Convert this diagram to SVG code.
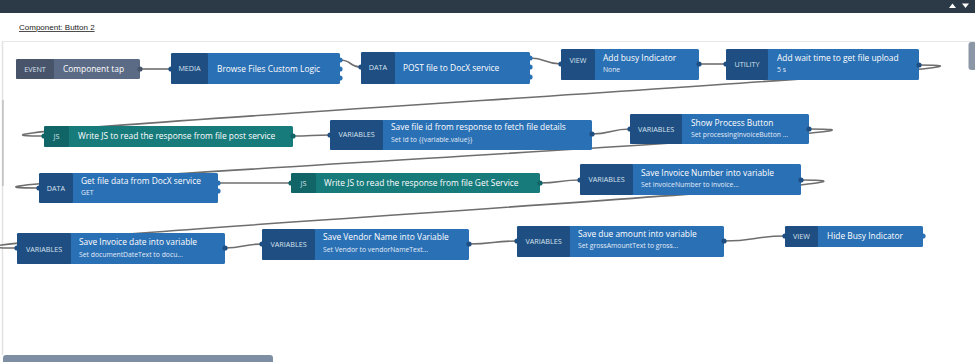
<svg xmlns="http://www.w3.org/2000/svg" width="975" height="362" viewBox="0 0 975 362">
  <style>
    .t { font-family: "Open Sans", "Liberation Sans", sans-serif; fill: #ffffff; font-size: 8.4px; }
    .s { font-family: "Open Sans", "Liberation Sans", sans-serif; fill: #e2ecf7; font-size: 6.8px; }
    .k { font-family: "Open Sans", "Liberation Sans", sans-serif; fill: #d6e1ee; font-size: 7.2px; text-anchor: middle; }
    .wire { fill: none; stroke: #6e6e6e; stroke-width: 1.6; }
    .blue { fill: #2a70b5; }
    .blueL { fill: #1f4f82; }
    .teal { fill: #177a7b; }
    .tealL { fill: #126567; }
    .ev { fill: #5b6b86; }
    .evL { fill: #47546a; }
  </style>

  <!-- page chrome -->
  <rect x="0" y="0" width="975" height="362" fill="#ffffff"/>
  <rect x="0" y="0" width="975" height="13" fill="#2c3a47"/>
  <polygon points="949,8 952.5,3.5 956,8" fill="#ffffff"/>
  <polygon points="962,3.5 969,3.5 965.5,8" fill="#ffffff"/>
  <text x="19" y="30" font-family="Liberation Sans, Arial, sans-serif" font-size="8" fill="#222" text-decoration="underline">Component: Button 2</text>
  <line x1="3" y1="41.5" x2="975" y2="41.5" stroke="#e8e8e8" stroke-width="1"/>
  <line x1="2.5" y1="41" x2="2.5" y2="355" stroke="#e2e2e2" stroke-width="1.5"/>
  <line x1="3" y1="100" x2="3" y2="186" stroke="#a8a8a8" stroke-width="1"/>
  <rect x="968.5" y="42" width="8" height="28" rx="3" fill="#8b97a7"/>
  <rect x="3" y="355" width="270" height="9" rx="3" fill="#7f8fa3"/>

  <!-- connectors -->
  <g id="connectors">
    <path class="wire" d="M140,69 C155,69 156,69 171,69"/>
    <path class="wire" d="M340,60 C352,60 349,67 361,67"/>
    <path class="wire" d="M530,58 C546,58 545,64 561,64"/>
    <path class="wire" d="M699,64 C712,64 713,64 726,64"/>
    <path class="wire" d="M919,65 C1119,65 -156,136 44,136"/>
    <path class="wire" d="M293,136 C311,136 312,135 330,135"/>
    <path class="wire" d="M592,134 C611,134 611,129 630,129"/>
    <path class="wire" d="M809,129 C1009,129 -161,188 39,188"/>
    <path class="wire" d="M218,183 C254,183 255,183 291,183"/>
    <path class="wire" d="M540,183 C560,183 560,180 580,180"/>
    <path class="wire" d="M801,180 C1001,180 -183,248 17,248"/>
    <path class="wire" d="M225,248 C243,248 244,244 262,244"/>
    <path class="wire" d="M469,244 C493,244 493,241 517,241"/>
    <path class="wire" d="M724,241 C755,241 755,236 785,236"/>
  </g>

  <!-- row 1 -->
  <g id="node-component-tap">
    <rect class="ev" x="16" y="59" width="124" height="20" rx="1.5"/>
    <rect class="evL" x="16" y="59" width="38" height="20" rx="1.5"/>
    <circle class="evL" cx="140" cy="69" r="2.6"/>
    <text class="k" x="35" y="71.5">EVENT</text>
    <text class="t" x="63" y="72">Component tap</text>
  </g>
  <g id="node-browse-files">
    <rect class="blue" x="171" y="53" width="169" height="31" rx="1.5"/>
    <rect class="blueL" x="171" y="53" width="37" height="31" rx="1.5"/>
    <circle class="blueL" cx="171" cy="69" r="2.6"/>
    <circle class="blue" cx="340" cy="60" r="2.6"/>
    <circle class="blue" cx="340" cy="69" r="2.6"/>
    <circle class="blue" cx="340" cy="78" r="2.6"/>
    <text class="k" x="189.5" y="71">MEDIA</text>
    <text class="t" x="217" y="72">Browse Files Custom Logic</text>
  </g>
  <g id="node-post-file">
    <rect class="blue" x="361" y="52" width="169" height="32" rx="1.5"/>
    <rect class="blueL" x="361" y="52" width="34" height="32" rx="1.5"/>
    <circle class="blueL" cx="361" cy="67" r="2.6"/>
    <circle class="blue" cx="530" cy="58" r="2.6"/>
    <circle class="blue" cx="530" cy="67" r="2.6"/>
    <circle class="blue" cx="530" cy="77" r="2.6"/>
    <text class="k" x="378" y="70">DATA</text>
    <text class="t" x="403" y="71">POST file to DocX service</text>
  </g>
  <g id="node-add-busy">
    <rect class="blue" x="561" y="49" width="138" height="31" rx="1.5"/>
    <rect class="blueL" x="561" y="49" width="34" height="31" rx="1.5"/>
    <circle class="blueL" cx="561" cy="64" r="2.6"/>
    <circle class="blueL" cx="699" cy="64" r="2.6"/>
    <text class="k" x="578" y="62.5">VIEW</text>
    <text class="t" x="603" y="61">Add busy Indicator</text>
    <text class="s" x="603" y="72">None</text>
  </g>
  <g id="node-wait-time">
    <rect class="blue" x="726" y="49" width="193" height="31" rx="1.5"/>
    <rect class="blueL" x="726" y="49" width="42" height="31" rx="1.5"/>
    <circle class="blueL" cx="726" cy="64" r="2.6"/>
    <circle class="blueL" cx="919" cy="65" r="2.6"/>
    <text class="k" x="747" y="66.5">UTILITY</text>
    <text class="t" x="777" y="61">Add wait time to get file upload</text>
    <text class="s" x="777" y="72">5 s</text>
  </g>

  <!-- row 2 -->
  <g id="node-js-post">
    <rect class="teal" x="44" y="126" width="249" height="21" rx="1.5"/>
    <rect class="tealL" x="44" y="126" width="25" height="21" rx="1.5"/>
    <circle class="tealL" cx="44" cy="136" r="2.6"/>
    <circle class="tealL" cx="293" cy="136" r="2.6"/>
    <text class="k" x="56.5" y="138.5">JS</text>
    <text class="t" x="78" y="139">Write JS to read the response from file post service</text>
  </g>
  <g id="node-save-file-id">
    <rect class="blue" x="330" y="120" width="262" height="30" rx="1.5"/>
    <rect class="blueL" x="330" y="120" width="53" height="30" rx="1.5"/>
    <circle class="blueL" cx="330" cy="135" r="2.6"/>
    <circle class="blueL" cx="592" cy="134" r="2.6"/>
    <text class="k" x="356.5" y="137">VARIABLES</text>
    <text class="t" x="391" y="130">Save file id from response to fetch file details</text>
    <text class="s" x="391" y="142">Set id to {{variable.value}}</text>
  </g>
  <g id="node-show-process">
    <rect class="blue" x="630" y="114" width="179" height="30" rx="1.5"/>
    <rect class="blueL" x="630" y="114" width="52" height="30" rx="1.5"/>
    <circle class="blueL" cx="630" cy="129" r="2.6"/>
    <circle class="blueL" cx="809" cy="129" r="2.6"/>
    <text class="k" x="656" y="132">VARIABLES</text>
    <text class="t" x="691" y="125.5">Show Process Button</text>
    <text class="s" x="691" y="136.5">Set processingInvoiceButton ...</text>
  </g>

  <!-- row 3 -->
  <g id="node-get-file">
    <rect class="blue" x="39" y="173" width="179" height="30" rx="1.5"/>
    <rect class="blueL" x="39" y="173" width="34" height="30" rx="1.5"/>
    <circle class="blueL" cx="39" cy="188" r="2.6"/>
    <circle class="blue" cx="218" cy="183" r="2.6"/>
    <circle class="blue" cx="218" cy="191" r="2.6"/>
    <text class="k" x="56" y="191">DATA</text>
    <text class="t" x="81" y="183.5">Get file data from DocX service</text>
    <text class="s" x="81" y="194.5">GET</text>
  </g>
  <g id="node-js-get">
    <rect class="teal" x="291" y="173" width="249" height="20" rx="1.5"/>
    <rect class="tealL" x="291" y="173" width="25" height="20" rx="1.5"/>
    <circle class="tealL" cx="291" cy="183" r="2.6"/>
    <circle class="tealL" cx="540" cy="183" r="2.6"/>
    <text class="k" x="303.5" y="185.5">JS</text>
    <text class="t" x="324" y="186">Write JS to read the response from file Get Service</text>
  </g>
  <g id="node-invoice-number">
    <rect class="blue" x="580" y="164" width="221" height="31" rx="1.5"/>
    <rect class="blueL" x="580" y="164" width="53" height="31" rx="1.5"/>
    <circle class="blueL" cx="580" cy="180" r="2.6"/>
    <circle class="blueL" cx="801" cy="180" r="2.6"/>
    <text class="k" x="606.5" y="182">VARIABLES</text>
    <text class="t" x="641" y="175.5">Save Invoice Number into variable</text>
    <text class="s" x="641" y="186.5">Set invoiceNumber to invoice...</text>
  </g>

  <!-- row 4 -->
  <g id="node-invoice-date">
    <rect class="blue" x="17" y="233" width="208" height="31" rx="1.5"/>
    <rect class="blueL" x="17" y="233" width="54" height="31" rx="1.5"/>
    <circle class="blueL" cx="17" cy="248" r="2.6"/>
    <circle class="blueL" cx="225" cy="248" r="2.6"/>
    <text class="k" x="44" y="252">VARIABLES</text>
    <text class="t" x="79" y="245">Save Invoice date into variable</text>
    <text class="s" x="79" y="256.5">Set documentDateText to docu...</text>
  </g>
  <g id="node-vendor-name">
    <rect class="blue" x="262" y="229" width="207" height="31" rx="1.5"/>
    <rect class="blueL" x="262" y="229" width="53" height="31" rx="1.5"/>
    <circle class="blueL" cx="262" cy="244" r="2.6"/>
    <circle class="blueL" cx="469" cy="244" r="2.6"/>
    <text class="k" x="288.5" y="247">VARIABLES</text>
    <text class="t" x="323" y="240">Save Vendor Name into Variable</text>
    <text class="s" x="323" y="251.5">Set Vendor to vendorNameText...</text>
  </g>
  <g id="node-due-amount">
    <rect class="blue" x="517" y="226" width="207" height="31" rx="1.5"/>
    <rect class="blueL" x="517" y="226" width="53" height="31" rx="1.5"/>
    <circle class="blueL" cx="517" cy="241" r="2.6"/>
    <circle class="blueL" cx="724" cy="241" r="2.6"/>
    <text class="k" x="543.5" y="243.5">VARIABLES</text>
    <text class="t" x="578" y="236.5">Save due amount into variable</text>
    <text class="s" x="578" y="247.5">Set grossAmountText to gross...</text>
  </g>
  <g id="node-hide-busy">
    <rect class="blue" x="785" y="226" width="138" height="21" rx="1.5"/>
    <rect class="blueL" x="785" y="226" width="33" height="21" rx="1.5"/>
    <circle class="blueL" cx="785" cy="236" r="2.6"/>
    <circle class="blue" cx="923" cy="236" r="2.6"/>
    <text class="k" x="801.5" y="238.5">VIEW</text>
    <text class="t" x="827" y="239">Hide Busy Indicator</text>
  </g>
</svg>
